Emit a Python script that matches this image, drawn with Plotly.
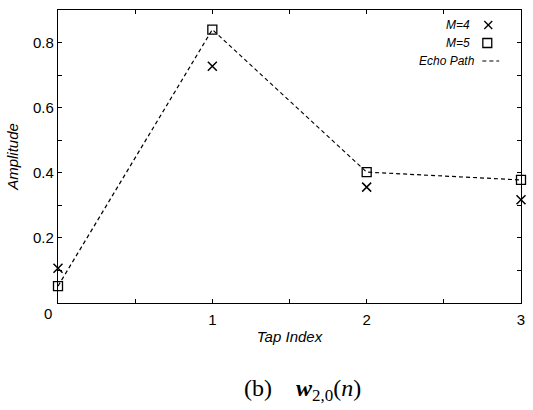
import plotly.graph_objects as go

tap_index = [0, 1, 2, 3]
echo_path = [0.052, 0.840, 0.402, 0.378]
m5_values = [0.052, 0.840, 0.402, 0.378]
m4_values = [0.107, 0.727, 0.356, 0.317]

x_tickvals = [0, 0.5, 1, 1.5, 2, 2.5, 3]
x_ticktext = ["", "", "1", "", "2", "", "3"]
y_tickvals = [0, 0.1, 0.2, 0.3, 0.4, 0.5, 0.6, 0.7, 0.8, 0.9]
y_ticktext = ["", "", "0.2", "", "0.4", "", "0.6", "", "0.8", ""]

W, H = 533, 410
L, R, T, B = 58, 525, 10, 303

def px(x):
    return (x - L) / (R - L)

def py(y):
    return (B - y) / (B - T)

fig = go.Figure()
fig.add_trace(go.Scatter(x=tap_index, y=echo_path, mode="lines",
                         line=dict(color="black", width=1.2, dash="4px,3px"),
                         showlegend=False, cliponaxis=False))
fig.add_trace(go.Scatter(x=tap_index, y=m5_values, mode="markers",
                         marker=dict(symbol="square-open", size=9, color="black",
                                     line=dict(width=1.3, color="black")),
                         showlegend=False, cliponaxis=False))
fig.add_trace(go.Scatter(x=tap_index, y=m4_values, mode="markers",
                         marker=dict(symbol="x-thin-open", size=9, color="black",
                                     line=dict(width=1.5, color="black")),
                         showlegend=False, cliponaxis=False))

font = "Liberation Sans, Arial, sans-serif"
axis_common = dict(showline=True, linecolor="black", linewidth=1.3, mirror="allticks",
                   ticks="inside", ticklen=4, tickcolor="black", tickwidth=1,
                   showgrid=False, zeroline=False,
                   tickfont=dict(family=font, size=15, color="black"))

fig.update_layout(
    width=W, height=H,
    margin=dict(l=L, r=W - R, t=T, b=H - B),
    paper_bgcolor="white", plot_bgcolor="white",
    xaxis=dict(range=[0, 3], tickmode="array", tickvals=x_tickvals, ticktext=x_ticktext,
               ticklabelstandoff=3,
               title=dict(text="<i>Tap Index</i>", font=dict(family=font, size=15, color="black"),
                          standoff=4),
               **axis_common),
    yaxis=dict(range=[0, 0.9], tickmode="array", tickvals=y_tickvals, ticktext=y_ticktext,
               title=dict(text="<i>Amplitude</i>", font=dict(family=font, size=15, color="black"),
                          standoff=10),
               **axis_common),
)

annotations = [
    dict(x=px(48), y=py(313), text="0"),
    dict(x=px(476), y=py(25), text="<i>M=4</i>", xanchor="right", font=dict(family=font, size=12, color="black")),
    dict(x=px(476), y=py(43), text="<i>M=5</i>", xanchor="right", font=dict(family=font, size=12, color="black")),
    dict(x=px(481), y=py(61), text="<i>Echo Path</i>", xanchor="right", font=dict(family=font, size=12, color="black")),
    dict(x=px(305), y=py(390),
         text="(b)&nbsp;&nbsp;&nbsp;&nbsp;<b><i>w</i></b><sub><span style='font-size:17px'>2,0</span></sub>(<i>n</i>)",
         font=dict(family="Liberation Serif, Times New Roman, serif", size=24, color="black")),
]
for a in annotations:
    a.setdefault("xanchor", "center")
    a.setdefault("font", dict(family=font, size=15, color="black"))
    a.update(xref="paper", yref="paper", showarrow=False, yanchor="middle")
fig.update_layout(annotations=annotations)

shapes = []
# legend glyph: x
cx, cy, s = 492, 25, 4
shapes.append(dict(type="line", x0=px(cx - s), x1=px(cx + s), y0=py(cy - s), y1=py(cy + s)))
shapes.append(dict(type="line", x0=px(cx - s), x1=px(cx + s), y0=py(cy + s), y1=py(cy - s)))
# legend glyph: square
cx, cy, s = 491, 43, 4.5
shapes.append(dict(type="rect", x0=px(cx - s), x1=px(cx + s), y0=py(cy - s), y1=py(cy + s)))
# legend glyph: dashed line
shapes.append(dict(type="line", x0=px(486), x1=px(503), y0=py(61), y1=py(61),
                   line=dict(color="black", width=1.2, dash="4px,3px")))
for sh in shapes:
    sh.update(xref="paper", yref="paper")
    sh.setdefault("line", dict(color="black", width=1.3))
fig.update_layout(shapes=shapes)

fig.write_html("out.html", config={"displayModeBar": False},
               post_script="document.body.style.margin='0';document.body.style.overflow='hidden';")
